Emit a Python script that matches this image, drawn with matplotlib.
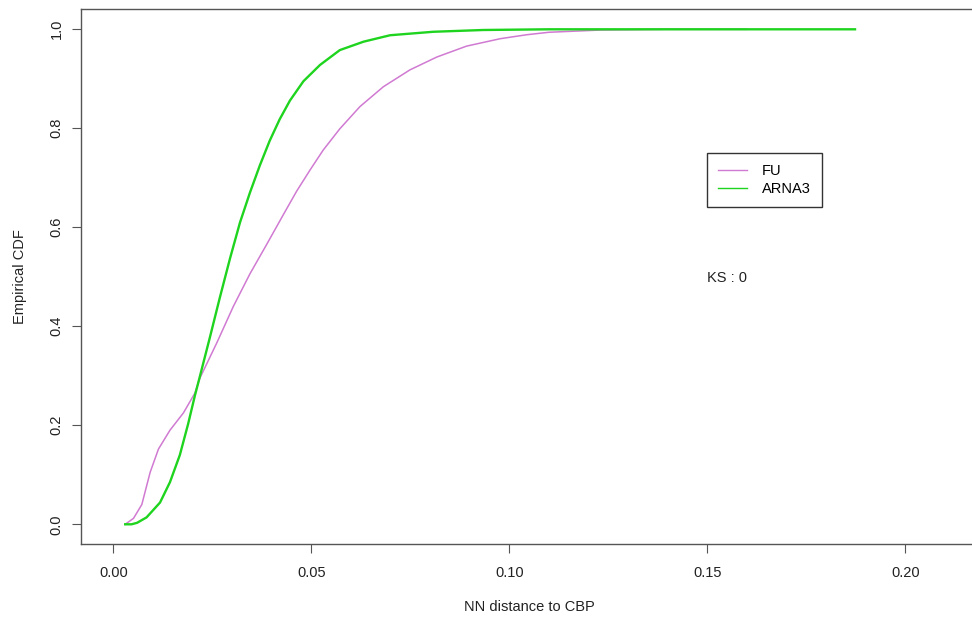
import matplotlib
matplotlib.use("Agg")
import matplotlib.pyplot as plt

# FU empirical CDF
fu_x = [0.0030, 0.0051, 0.0072, 0.0093, 0.0114, 0.0143, 0.0177, 0.0206, 0.0219, 0.0261,
        0.0303, 0.0345, 0.0387, 0.0429, 0.0463, 0.0497, 0.0530, 0.0572, 0.0623, 0.0682,
        0.0749, 0.0817, 0.0892, 0.0977, 0.1044, 0.1100, 0.1230, 0.1400, 0.1600]
fu_y = [0.000, 0.012, 0.040, 0.105, 0.152, 0.190, 0.225, 0.265, 0.296, 0.366,
        0.440, 0.506, 0.565, 0.625, 0.673, 0.716, 0.756, 0.799, 0.844, 0.884,
        0.918, 0.944, 0.966, 0.981, 0.989, 0.994, 0.9985, 1.0, 1.0]

# ARNA3 empirical CDF
ar_x = [0.0030, 0.0046, 0.0060, 0.0084, 0.0118, 0.0143, 0.0168, 0.0189, 0.0206, 0.0219,
        0.0244, 0.0269, 0.0295, 0.0320, 0.0345, 0.0370, 0.0395, 0.0420, 0.0446, 0.0480,
        0.0522, 0.0572, 0.0632, 0.0699, 0.0808, 0.0934, 0.1100, 0.1400, 0.1873]
ar_y = [0.000, 0.000, 0.003, 0.014, 0.044, 0.085, 0.140, 0.203, 0.260, 0.300,
        0.378, 0.458, 0.538, 0.610, 0.670, 0.725, 0.775, 0.818, 0.856, 0.895,
        0.928, 0.958, 0.975, 0.988, 0.995, 0.9986, 1.0, 1.0, 1.0]

x_ticks = [0.00, 0.05, 0.10, 0.15, 0.20]
x_labels = ["0.00", "0.05", "0.10", "0.15", "0.20"]
y_ticks = [0.0, 0.2, 0.4, 0.6, 0.8, 1.0]
y_labels = ["0.0", "0.2", "0.4", "0.6", "0.8", "1.0"]
series_names = ["FU", "ARNA3"]
ks_text = "KS : 0"

plt.rcParams['font.family'] = ['Liberation Sans', 'DejaVu Sans']
plt.rcParams['font.size'] = 10.5

W, H = 972, 624
fig = plt.figure(figsize=(W / 100, H / 100), dpi=100)

# plot region in pixels (extends past the right edge like the reference)
left_px, top_px, bottom_px = 81, 9.3, 544
xmin, xmax = -0.00816, 0.25
px_per_unit = 3960
width_px = (xmax - xmin) * px_per_unit
ax = fig.add_axes([left_px / W, (H - bottom_px) / H, width_px / W, (bottom_px - top_px) / H])

fu_col = '#d07ad2'
ar_col = '#1ed41e'
ax.plot(fu_x, fu_y, color=fu_col, lw=1.1, label=series_names[0])
ax.plot(ar_x, ar_y, color=ar_col, lw=1.7, label=series_names[1])

ax.set_xlim(xmin, xmax)
ax.set_ylim(-0.0398, 1.0404)

spine_col = '#555555'
for s in ax.spines.values():
    s.set_color(spine_col)
    s.set_linewidth(1.0)

ax.set_xticks(x_ticks)
ax.set_xticklabels(x_labels)
ax.set_yticks(y_ticks)
ax.set_yticklabels(y_labels, rotation=90, va='center')
ax.tick_params(axis='both', direction='out', length=6.5, width=0.8, colors=spine_col,
               labelcolor='#222222', labelsize=10.5)
ax.tick_params(axis='x', pad=9)
ax.tick_params(axis='y', pad=6)

fig.text(529 / W, 1 - 607 / H, "NN distance to CBP", ha='center', va='center', color='#222222')
fig.text(20 / W, 1 - 277 / H, "Empirical CDF", ha='center', va='center', rotation=90, color='#222222')
fig.text(707 / W, 1 - 278 / H, ks_text, ha='left', va='center', color='#222222')

leg = ax.legend(loc='upper left', bbox_to_anchor=(707 / W, 1 - 153 / H),
                bbox_transform=fig.transFigure, borderaxespad=0, fancybox=False,
                framealpha=1, edgecolor='#333333', handlelength=2.0, handletextpad=1.0,
                borderpad=0.75, labelspacing=0.28, fontsize=10.5)
leg.get_frame().set_linewidth(1.0)
for line in leg.get_lines():
    line.set_linewidth(1.0)

fig.savefig("out.png", dpi=100)
